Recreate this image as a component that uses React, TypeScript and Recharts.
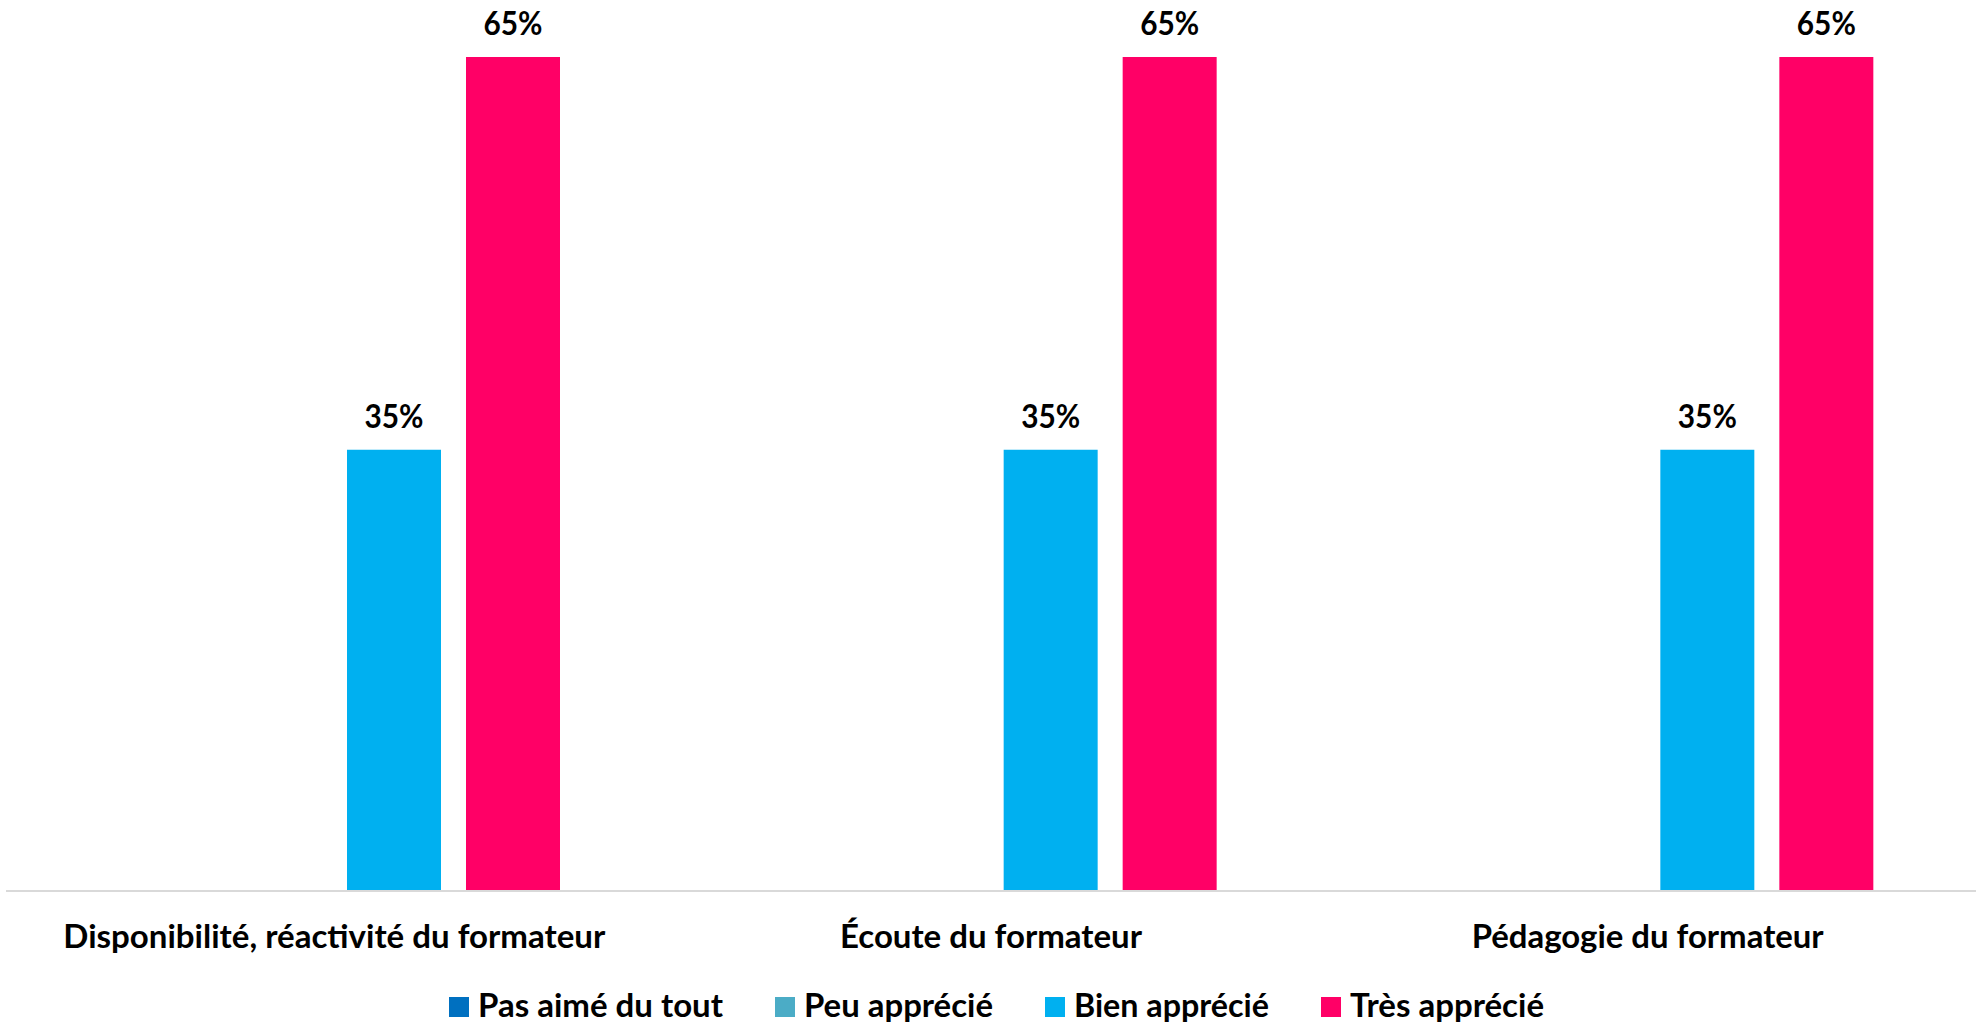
import React from 'react';
import { BarChart, Bar, XAxis, YAxis, LabelList } from 'recharts';

// data (labels are rounded to whole percents)
const categories = [
  'Disponibilité, réactivité du formateur',
  'Écoute du formateur',
  'Pédagogie du formateur',
];
const pasAime = [0, 0, 0];
const peuApprecie = [0, 0, 0];
const bienApprecie = [34.6, 34.6, 34.6];
const tresApprecie = [65.4, 65.4, 65.4];

const seriesNames = ['Pas aimé du tout', 'Peu apprécié', 'Bien apprécié', 'Très apprécié'];
const seriesKeys = ['pas', 'peu', 'bien', 'tres'];
const seriesColors = ['#0070C0', '#4BACC6', '#00B0F0', '#FF0066'];

// widths of the (condensed Calibri) labels in the reference
const tickWidths = [542, 302, 352];
const legendWidths = [245, 189, 195, 194];

const chartData = categories.map((name, i) => ({
  name,
  pas: pasAime[i],
  peu: peuApprecie[i],
  bien: bienApprecie[i],
  tres: tresApprecie[i],
}));

const FONT = 'Lato, "Noto Sans", sans-serif';

const CategoryTick = (props: any) => {
  const { x, y, payload } = props;
  const idx = categories.indexOf(payload.value);
  return (
    <text
      x={x}
      y={y + 57}
      textAnchor="middle"
      fontFamily={FONT}
      fontWeight={700}
      fontSize={33}
      fill="#000"
      textLength={tickWidths[idx]}
      lengthAdjust="spacingAndGlyphs"
    >
      {payload.value}
    </text>
  );
};

const ValueLabel = (props: any) => {
  const { x, y, width, value } = props;
  if (!value) return null;
  return (
    <text
      x={x + width / 2}
      y={y - 22}
      textAnchor="middle"
      fontFamily={FONT}
      fontWeight={700}
      fontSize={33}
      fill="#000"
      textLength={59}
      lengthAdjust="spacingAndGlyphs"
    >
      {`${Math.round(value)}%`}
    </text>
  );
};

const LegendBar = () => {
  let cx = 449;
  const items = seriesNames.map((name, i) => {
    const start = cx;
    cx += 29 + legendWidths[i] + 52;
    return (
      <g key={name}>
        <rect x={start} y={997} width={20} height={20} fill={seriesColors[i]} />
        <text
          x={start + 29}
          y={1017}
          fontFamily={FONT}
          fontWeight={700}
          fontSize={33}
          fill="#000"
          textLength={legendWidths[i]}
          lengthAdjust="spacingAndGlyphs"
        >
          {name}
        </text>
      </g>
    );
  });
  return (
    <svg width={1981} height={1023} style={{ position: 'absolute', left: 0, top: 0, pointerEvents: 'none' }}>
      {items}
    </svg>
  );
};

const App: React.FC = () => {
  return (
    <div style={{ position: 'absolute', left: 0, top: 0, width: 1981, height: 1023, background: '#fff' }}>
      <BarChart
        width={1981}
        height={1023}
        data={chartData}
        margin={{ top: 57, right: 5, left: 6, bottom: 0 }}
        barGap={25}
      >
        <XAxis
          dataKey="name"
          height={132}
          tickLine={false}
          tickSize={0}
          tickMargin={0}
          axisLine={{ stroke: '#D9D9D9', strokeWidth: 2 }}
          tick={<CategoryTick />}
          interval={0}
        />
        <YAxis hide domain={[0, 65.4]} width={0} />
        {seriesKeys.map((key, i) => (
          <Bar key={key} dataKey={key} name={seriesNames[i]} fill={seriesColors[i]} barSize={94} isAnimationActive={false}>
            <LabelList dataKey={key} content={<ValueLabel />} />
          </Bar>
        ))}
      </BarChart>
      <LegendBar />
    </div>
  );
};

export default App;
